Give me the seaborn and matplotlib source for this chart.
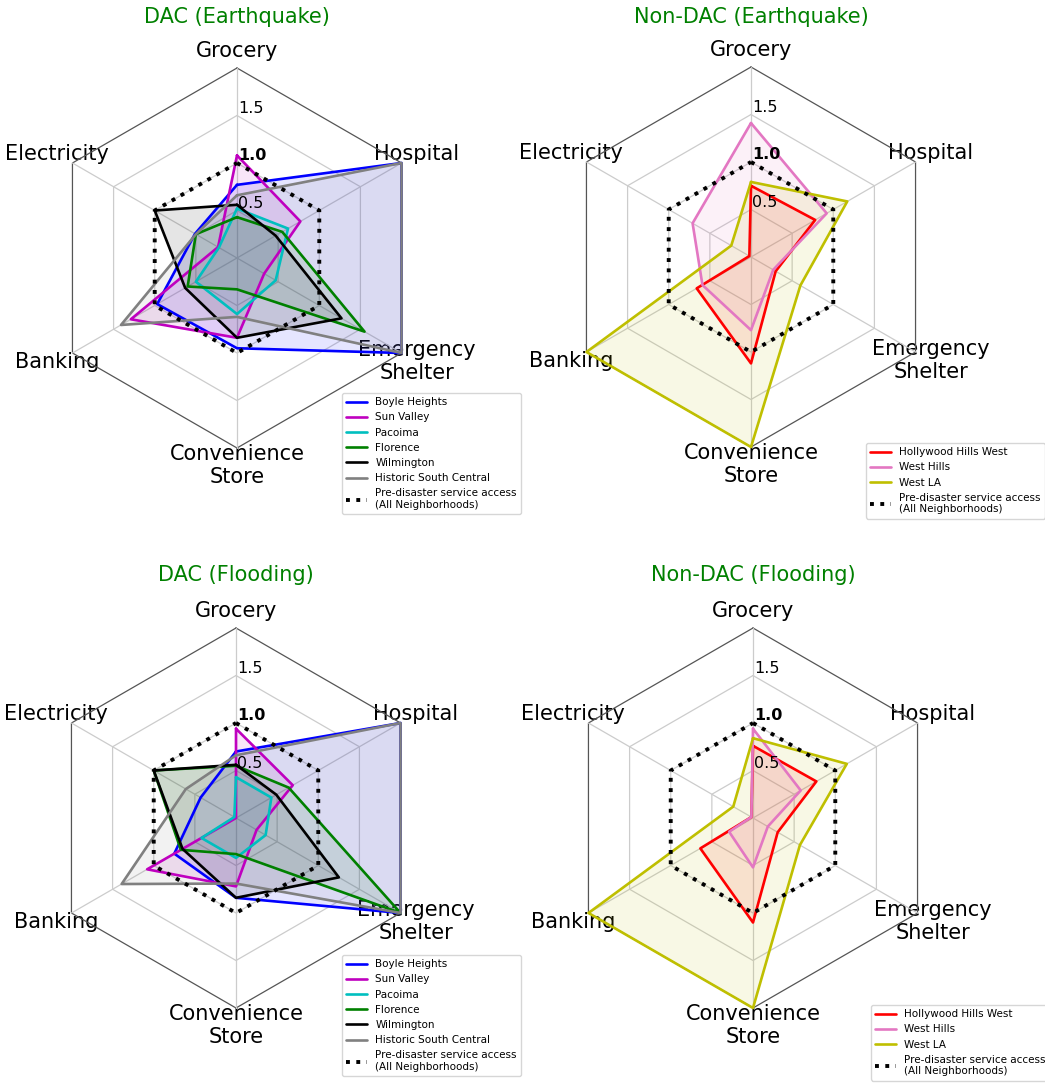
import numpy as np
import pandas as pd
import matplotlib
matplotlib.use("Agg")
import matplotlib.pyplot as plt
import seaborn as sns

# ---------------- data ----------------
categories = ["Grocery", "Hospital", "Emergency\nShelter", "Convenience\nStore", "Banking", "Electricity"]

dac_names = ["Boyle Heights", "Sun Valley", "Pacoima", "Florence", "Wilmington", "Historic South Central"]
dac_colors = ["b", "m", "c", "g", "k", "gray"]
nondac_names = ["Hollywood Hills West", "West Hills", "West LA"]
nondac_colors = ["r", "#e377c2", "y"]

# order of values: Grocery, Hospital, Emergency Shelter, Convenience Store, Banking, Electricity
dac_eq_boyle = [0.77, 2.00, 2.00, 0.95, 0.97, 0.51]
dac_eq_sunvalley = [1.08, 0.77, 0.33, 0.84, 1.29, 0.23]
dac_eq_pacoima = [0.52, 0.62, 0.47, 0.59, 0.50, 0.22]
dac_eq_florence = [0.43, 0.55, 1.55, 0.33, 0.60, 0.50]
dac_eq_wilmington = [0.56, 0.47, 1.27, 0.84, 0.63, 1.00]
dac_eq_hsc = [0.66, 2.00, 2.00, 0.62, 1.41, 0.50]

non_eq_hhw = [0.75, 0.78, 0.30, 1.12, 0.66, 0.02]
non_eq_westhills = [1.41, 0.92, 0.27, 0.77, 0.59, 0.71]
non_eq_westla = [0.79, 1.17, 0.60, 2.00, 2.00, 0.24]

dac_fl_boyle = [0.70, 2.00, 2.00, 0.84, 0.75, 0.43]
dac_fl_sunvalley = [0.94, 0.69, 0.25, 0.72, 1.08, 0.00]
dac_fl_pacoima = [0.43, 0.43, 0.36, 0.42, 0.42, 0.02]
dac_fl_florence = [0.55, 0.64, 2.00, 0.38, 0.67, 1.00]
dac_fl_wilmington = [0.56, 0.49, 1.25, 0.84, 0.65, 1.00]
dac_fl_hsc = [0.66, 2.00, 2.00, 0.69, 1.39, 0.61]

non_fl_hhw = [0.76, 0.77, 0.30, 1.10, 0.64, 0.02]
non_fl_westhills = [0.94, 0.58, 0.18, 0.52, 0.29, 0.02]
non_fl_westla = [0.84, 1.14, 0.57, 2.00, 2.00, 0.24]

pre_disaster = [1.0, 1.0, 1.0, 1.0, 1.0, 1.0]
pre_label = "Pre-disaster service access\n(All Neighborhoods)"

r_ticks = [0.5, 1.0, 1.5]
r_tick_labels = ["0.5", "1.0", "1.5"]
r_max = 2.0

panels = [
    ("DAC (Earthquake)", dac_names, dac_colors,
     [dac_eq_boyle, dac_eq_sunvalley, dac_eq_pacoima, dac_eq_florence, dac_eq_wilmington, dac_eq_hsc]),
    ("Non-DAC (Earthquake)", nondac_names, nondac_colors,
     [non_eq_hhw, non_eq_westhills, non_eq_westla]),
    ("DAC (Flooding)", dac_names, dac_colors,
     [dac_fl_boyle, dac_fl_sunvalley, dac_fl_pacoima, dac_fl_florence, dac_fl_wilmington, dac_fl_hsc]),
    ("Non-DAC (Flooding)", nondac_names, nondac_colors,
     [non_fl_hhw, non_fl_westhills, non_fl_westla]),
]

# ---------------- layout (pixels) ----------------
W, H = 1045, 1086
R = 190
centers = [(237, 258), (751, 257), (236, 818), (753, 818)]
title_y = [17, 17, 575, 575]
legend_xy = [(342, 393), (866, 443), (342, 955), (871, 1005)]

sns.set_style("white")
plt.rcParams["font.family"] = ["DejaVu Sans"]
plt.rcParams["text.color"] = "black"
plt.rcParams["xtick.color"] = "black"
plt.rcParams["ytick.color"] = "black"
plt.rcParams["axes.labelcolor"] = "black"

fig = plt.figure(figsize=(W / 100, H / 100), dpi=100)

n = len(categories)
theta = np.linspace(0, 2 * np.pi, n, endpoint=False)
theta_closed = np.concatenate([theta, [2 * np.pi]])


def closed(vals):
    return np.concatenate([vals, [vals[0]]])


for i, (title, names, colors, series) in enumerate(panels):
    cx, cy = centers[i]
    ax = fig.add_axes([(cx - R) / W, 1 - (cy + R) / H, 2 * R / W, 2 * R / H], projection="polar")
    ax.set_theta_offset(np.pi / 2)
    ax.set_theta_direction(-1)
    ax.set_ylim(0, r_max)
    ax.grid(False)
    ax.spines["polar"].set_visible(False)
    ax.set_yticks([])

    # hexagonal grid
    for rv in r_ticks:
        ax.plot(theta_closed, [rv] * (n + 1), color="#cccccc", lw=0.9, zorder=1)
    ax.plot(theta_closed, [r_max] * (n + 1), color="#555555", lw=0.9, zorder=1, clip_on=False)
    for t in theta:
        ax.plot([t, t], [0, r_max], color="#cccccc", lw=0.9, zorder=1)

    # data
    for name, col, vals in zip(names, colors, series):
        df = pd.DataFrame({"theta": theta_closed, "value": closed(np.array(vals))})
        sns.lineplot(data=df, x="theta", y="value", sort=False, estimator=None,
                     color=col, lw=1.9, ax=ax, label=name, legend=False, zorder=3)
        ax.fill(df["theta"], df["value"], color=col, alpha=0.1, zorder=2)
    dfp = pd.DataFrame({"theta": theta_closed, "value": closed(np.array(pre_disaster))})
    sns.lineplot(data=dfp, x="theta", y="value", sort=False, estimator=None,
                 color="k", lw=2.8, linestyle=":", ax=ax, label=pre_label, legend=False, zorder=4)

    for line in ax.get_lines():
        line.set_clip_on(False)

    ax.set_xlabel("")
    ax.set_ylabel("")
    ax.set_xticks(theta)
    ax.set_xticklabels(categories, fontsize=15, color="black")
    ax.tick_params(axis="x", pad=2)

    for rv, lab in zip(r_ticks, r_tick_labels):
        ax.text(0.012, rv, lab, ha="left", va="bottom", fontsize=11.5, color="black",
                fontweight="bold" if lab == "1.0" else "normal", zorder=5)

    fig.text(cx / W, 1 - title_y[i] / H, title, ha="center", va="center",
             fontsize=15, color="green")

    lx, ly = legend_xy[i]
    leg = ax.legend(loc="upper left", bbox_to_anchor=(lx / W, 1 - ly / H),
                    bbox_transform=fig.transFigure, borderaxespad=0, fontsize=7.5,
                    frameon=True)
    for txt in leg.get_texts():
        txt.set_color("black")

fig.savefig("out.png", dpi=100)
